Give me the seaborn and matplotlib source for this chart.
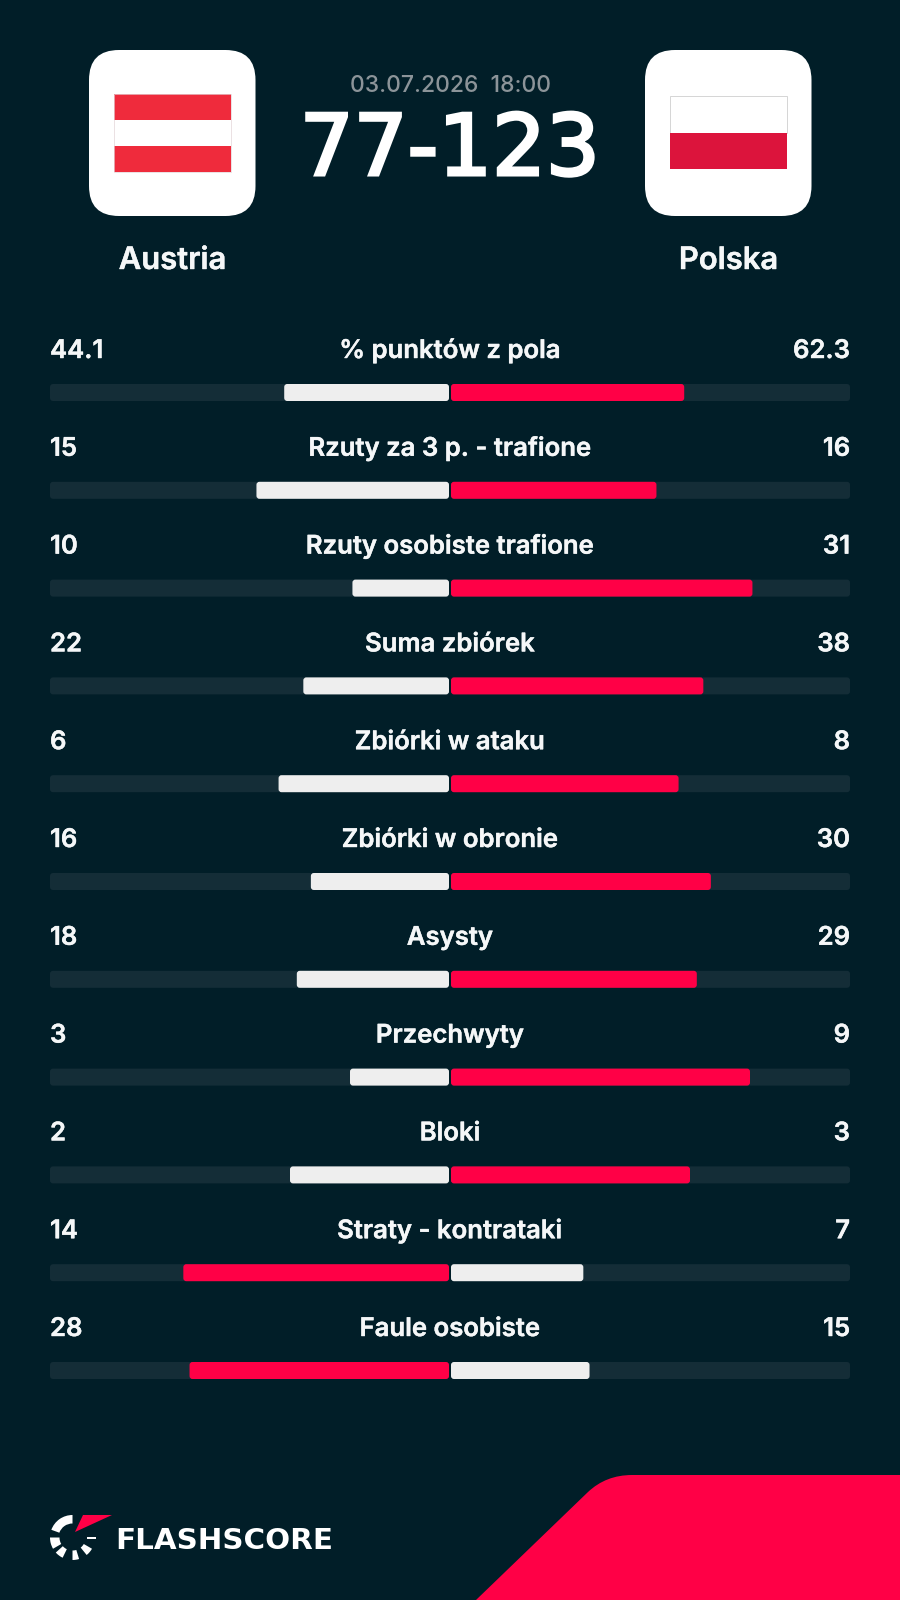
import matplotlib
matplotlib.use("Agg")
import matplotlib.pyplot as plt
import matplotlib.patheffects as pe
import pandas as pd
import seaborn as sns
from matplotlib.patches import FancyBboxPatch, Rectangle, PathPatch, Wedge, Polygon
from matplotlib.path import Path

# Match summary
home_team = "Austria"
away_team = "Polska"
kickoff = "03.07.2026  18:00"
score = "77-123"

# Team statistics
stats = ["% punktów z pola", "Rzuty za 3 p. - trafione", "Rzuty osobiste trafione",
         "Suma zbiórek", "Zbiórki w ataku", "Zbiórki w obronie", "Asysty",
         "Przechwyty", "Bloki", "Straty - kontrataki", "Faule osobiste"]
home_values = [44.1, 15, 10, 22, 6, 16, 18, 3, 2, 14, 28]
away_values = [62.3, 16, 31, 38, 8, 30, 29, 9, 3, 7, 15]

BG = "#011E28"
TRACK = "#142D37"
RED = "#FF0046"
LIGHT = "#EEEEEE"
GREY = "#8C9499"
TEXT = "#F5F7F8"
FONT = "Inter"

# Half of the full bar length, and the spacing between rows, in pixels
HALF = 400
ROW = 97.8
FIRST_BAR_Y = 392.5
BAR_H = 17


def thicker(width, colour):
    """Stroke outline that adds weight to a text's glyphs."""
    return [pe.withStroke(linewidth=width, foreground=colour, joinstyle="miter")]


sns.set_theme(style="white")
plt.rcParams["font.family"] = [FONT, "DejaVu Sans"]

fig = plt.figure(figsize=(9, 16), dpi=100, facecolor=BG)

# Header and footer artwork lives on a pixel-scaled canvas
canvas = fig.add_axes([0, 0, 1, 1], zorder=1)
canvas.set_xlim(0, 900)
canvas.set_ylim(1600, 0)
canvas.axis("off")

for x0 in (89, 645):
    canvas.add_patch(FancyBboxPatch((x0, 50), 166.5, 166, boxstyle="round,pad=0,rounding_size=30",
                                    fc="white", ec="none"))

# Flag of Austria
for y0, colour in zip((94, 120, 146), ("#EF2B3C", "white", "#EF2B3C")):
    canvas.add_patch(Rectangle((113.5, y0), 117, 26, fc=colour, ec="none"))
canvas.add_patch(Rectangle((113.5, 94), 117, 78, fc="none", ec="#E3D5D8", lw=0.5))

# Flag of Poland
canvas.add_patch(Rectangle((669.5, 96), 117, 36.5, fc="white", ec="#D5D5D5", lw=0.7))
canvas.add_patch(Rectangle((669.5, 132.5), 117, 36.5, fc="#DC143C", ec="none"))

canvas.text(450, 92, kickoff, color=GREY, fontsize=16.5, ha="center", va="baseline",
            fontweight="medium")
canvas.text(450, 175, score, color="white", fontsize=61, family="DejaVu Sans", ha="center", va="baseline",
            path_effects=thicker(2.2, "white"))
for x, team in ((172.5, home_team), (728.5, away_team)):
    canvas.text(x, 269, team, color=TEXT, fontsize=22.3, ha="center", va="baseline",
                fontweight="semibold", path_effects=thicker(0.3, TEXT))

# Footer shape
corner = Path([(476, 1600), (588, 1492), (606, 1475), (632, 1475), (900, 1475), (900, 1600), (476, 1600)],
              [Path.MOVETO, Path.LINETO, Path.CURVE3, Path.CURVE3, Path.LINETO, Path.LINETO, Path.CLOSEPOLY])
canvas.add_patch(PathPatch(corner, fc=RED, ec="none"))

# Logo mark: ring segments and the red shard
logo_c = (72.5, 1537.5)
for a1, a2, r0 in ((90, 160, 14), (180, 210, 13), (222, 244, 13), (270, 287, 13), (309, 330, 13)):
    canvas.add_patch(Wedge(logo_c, 22.5, -a2, -a1, width=22.5 - r0, fc="white", ec="none"))
canvas.add_patch(Rectangle((87, 1536.5), 9, 2.5, fc="white", ec="none"))
canvas.add_patch(Polygon([(112, 1515), (83, 1515), (75, 1532)], closed=True, fc=RED, ec="none"))
canvas.text(115, 1549, "FLASHSCORE", color="white", fontsize=21.2, family="DejaVu Sans",
            fontweight="bold", ha="left", va="baseline")

# Statistic rows: x counts pixels from the centre line, y counts rows
ax = fig.add_axes([0, 0, 1, 1], zorder=2)
ax.patch.set_alpha(0)

rows = []
track_rows = []
for stat, h, a in zip(stats, home_values, away_values):
    total = h + a
    home_leads = h > a
    rows.append({"stat": stat, "offset": -h / total * HALF, "role": "lead" if home_leads else "other"})
    rows.append({"stat": stat, "offset": a / total * HALF, "role": "other" if home_leads else "lead"})
    track_rows.append({"stat": stat, "offset": -HALF, "side": "home"})
    track_rows.append({"stat": stat, "offset": HALF, "side": "away"})
bars = pd.DataFrame(rows)
tracks = pd.DataFrame(track_rows)

bar_width = BAR_H / ROW
sns.barplot(data=tracks, y="stat", x="offset", hue="side", order=stats, dodge=False, errorbar=None,
            palette=[TRACK, TRACK], saturation=1, width=bar_width, legend=False, ax=ax)
sns.barplot(data=bars, y="stat", x="offset", hue="role", order=stats, dodge=False, errorbar=None,
            palette={"lead": RED, "other": LIGHT}, saturation=1, width=bar_width, legend=False, ax=ax)

ax.set_xlim(-450, 450)
ax.set_ylim((1600 - FIRST_BAR_Y) / ROW, -FIRST_BAR_Y / ROW)
ax.axis("off")

# Give every bar softly rounded corners and open a small gap at the centre line
for patch in list(ax.patches):
    x0, x1 = sorted((patch.get_x(), patch.get_x() + patch.get_width()))
    if x0 < 0:
        x1 -= 1
    else:
        x0 += 1
    rounded = FancyBboxPatch((x0, patch.get_y()), x1 - x0, patch.get_height(),
                             boxstyle="round,pad=0,rounding_size=3", mutation_aspect=1 / ROW,
                             fc=patch.get_facecolor(), ec="none", zorder=patch.get_zorder())
    patch.remove()
    ax.add_patch(rounded)

label_y = -34.5 / ROW
for i, (stat, h, a) in enumerate(zip(stats, home_values, away_values)):
    y = i + label_y
    style = dict(color=TEXT, fontsize=18.5, va="baseline", fontweight="semibold",
                 path_effects=thicker(0.3, TEXT))
    ax.text(-HALF, y, f"{h:g}", ha="left", **style)
    ax.text(0, y, stat, ha="center", **style)
    ax.text(HALF, y, f"{a:g}", ha="right", **style)

fig.savefig("out.png", dpi=100, facecolor=BG)
